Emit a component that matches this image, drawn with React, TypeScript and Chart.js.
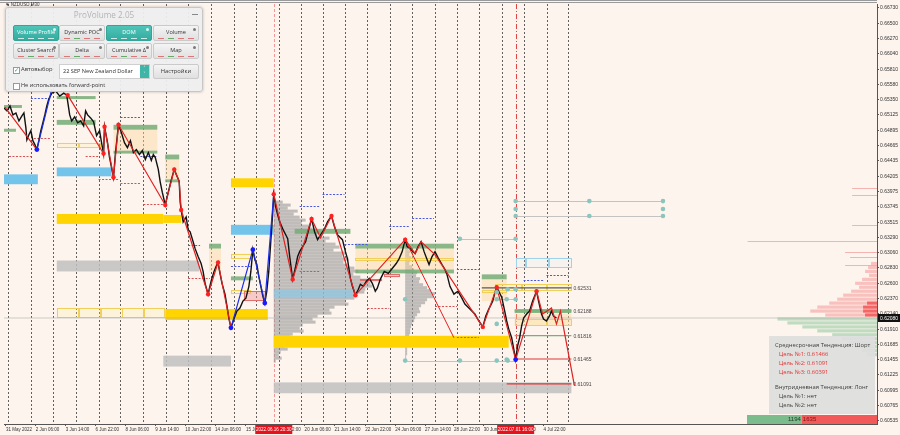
import React, { useEffect, useRef } from "react";
import { Chart, registerables } from "chart.js";

Chart.register(...registerables);

const FONT = '"Liberation Sans", Arial, sans-serif';
const BG = "#fdf4ee";

// ---------- axis data ----------
const priceMin = 0.6049;
const priceMax = 0.66789;
const barMin = 0;
const barMax = 877;

const yTicks = [0.6673, 0.665, 0.6627, 0.6604, 0.6581, 0.6558, 0.6535, 0.65125, 0.64895, 0.64665, 0.64435, 0.64205, 0.63975, 0.63745, 0.63515, 0.6329, 0.6306, 0.6283, 0.626, 0.6237, 0.6214, 0.6191, 0.61685, 0.61455, 0.61225, 0.60995, 0.60765, 0.60535];

const xTickBars = [2, 32, 62, 92, 122, 152, 182, 212, 243, 272, 302, 332, 363, 393, 423, 452, 482, 512, 542];
const xTickLabels = ["31 May 2022", "2 Jun 06:00", "3 Jun 14:00", "6 Jun 22:00", "8 Jun 06:00", "9 Jun 14:00", "10 Jun 22:00", "14 Jun 06:00", "15 Jun 14:00", "16 Jun 22:00", "20 Jun 06:00", "21 Jun 14:00", "22 Jun 22:00", "24 Jun 06:00", "27 Jun 14:00", "28 Jun 22:00", "30 Jun 06:00", "1 Jul 14:00", "4 Jul 22:00"];

const gridBars = [4, 27, 49, 72, 95, 117, 140, 163, 185, 208, 231, 253, 276, 298, 320, 343, 365, 388, 410, 433, 455, 477, 500, 522, 545, 567];

const markerBars = [271, 514];
const markerLabels = ["2022.06.16 20:30", "2022.07.01 16:00"];

const currentPrice = 0.6208;

// ---------- price path [bar, price] ----------
const pricePath: [number, number][] = [
  [0, 0.6523], [3, 0.65185], [6, 0.65259], [9, 0.65126], [12, 0.65155], [15, 0.65036], [18, 0.65111], [20, 0.65155], [22, 0.64932], [23, 0.64754],
  [25, 0.64828], [27, 0.64888], [29, 0.64739], [31, 0.6468], [33, 0.64606], [35, 0.64739], [37, 0.64888], [39, 0.65007], [41, 0.65126], [43, 0.65259],
  [45, 0.65363], [48, 0.65452], [52, 0.65482], [56, 0.65408], [60, 0.65452], [63, 0.65423], [66, 0.65126], [68, 0.65036], [71, 0.65096], [74, 0.65007],
  [77, 0.65036], [80, 0.64962], [82, 0.65185], [84, 0.65126], [87, 0.65081], [90, 0.65022], [93, 0.64814], [96, 0.64888], [98, 0.6471], [100, 0.64546],
  [101, 0.64947], [104, 0.6471], [106, 0.64487], [108, 0.64338], [110, 0.6419], [112, 0.64561], [115, 0.64977], [118, 0.64858], [121, 0.6471], [124, 0.64635],
  [127, 0.64739], [130, 0.64561], [133, 0.64606], [136, 0.64531], [139, 0.64591], [142, 0.64457], [145, 0.64561], [148, 0.64442], [150, 0.64531], [152, 0.64487],
  [155, 0.64308], [157, 0.64115], [159, 0.63967], [162, 0.63774], [165, 0.63967], [168, 0.64145], [171, 0.64308], [173, 0.64234], [176, 0.6413], [177, 0.63818],
  [178, 0.63699], [180, 0.63521], [183, 0.63595], [185, 0.63402], [187, 0.63373], [190, 0.63224], [192, 0.6312], [195, 0.63001], [198, 0.62897], [200, 0.62778],
  [202, 0.626], [205, 0.62437], [208, 0.6263], [211, 0.62778], [213, 0.62853], [215, 0.62912], [217, 0.62749], [219, 0.626], [222, 0.62437], [224, 0.62258],
  [226, 0.62065], [228, 0.61932], [231, 0.62065], [234, 0.62184], [237, 0.62229], [240, 0.62333], [243, 0.62377], [246, 0.62555], [248, 0.62778], [250, 0.63105],
  [252, 0.62957], [254, 0.62882], [256, 0.62704], [258, 0.62555], [260, 0.62407], [262, 0.62303], [264, 0.62481], [266, 0.62778], [268, 0.63224], [270, 0.6367],
  [271, 0.63937], [273, 0.63744], [275, 0.63625], [277, 0.63521], [280, 0.63417], [283, 0.63328], [285, 0.63269], [287, 0.63001], [290, 0.62659], [293, 0.62853],
  [295, 0.63001], [297, 0.63075], [300, 0.6315], [303, 0.63224], [306, 0.63402], [309, 0.63566], [312, 0.63373], [315, 0.63254], [318, 0.63328], [322, 0.63417],
  [325, 0.63521], [329, 0.6361], [332, 0.63447], [335, 0.63328], [338, 0.63283], [340, 0.63254], [343, 0.63075], [345, 0.62971], [348, 0.62674], [350, 0.62555],
  [353, 0.62422], [356, 0.62511], [358, 0.62585], [361, 0.62555], [364, 0.6263], [367, 0.62674], [370, 0.626], [373, 0.62481], [375, 0.62526], [378, 0.62659],
  [382, 0.62778], [386, 0.62749], [390, 0.62823], [394, 0.62897], [397, 0.62971], [400, 0.63075], [403, 0.63254], [405, 0.6315], [408, 0.6312], [411, 0.63075],
  [413, 0.63046], [416, 0.6315], [419, 0.63224], [422, 0.63075], [425, 0.62957], [427, 0.62882], [430, 0.63001], [433, 0.63075], [436, 0.62986], [440, 0.62882],
  [443, 0.62808], [445, 0.62734], [448, 0.62555], [452, 0.62437], [456, 0.62481], [460, 0.62377], [463, 0.62288], [467, 0.62229], [470, 0.62184], [473, 0.6214],
  [477, 0.62035], [481, 0.61946], [484, 0.6211], [487, 0.62214], [489, 0.62273], [491, 0.62333], [493, 0.62451], [495, 0.62541], [497, 0.62481], [500, 0.62392],
  [503, 0.62184], [505, 0.62035], [507, 0.61917], [510, 0.61783], [512, 0.6162], [514, 0.61456], [516, 0.61664], [518, 0.61783], [520, 0.61961], [522, 0.6208],
  [525, 0.6214], [528, 0.62184], [531, 0.62333], [535, 0.62481], [537, 0.62333], [540, 0.6214], [542, 0.62065], [545, 0.62035], [548, 0.6211], [550, 0.62184],
  [552, 0.6211], [555, 0.6208],
];

// ---------- zigzag [bar, price|null] ----------
const zigRed: [number, number | null][] = [
  [1, 0.65244], [33, 0.64606], [40, null],
  [64, 0.65423], [100, 0.64546], [101, 0.64947], [110, 0.6419], [115, 0.64977], [162, 0.63774], [171, 0.64308], [176, 0.6413], [178, 0.63699], [205, 0.62437], [215, 0.62912], [228, 0.61932], [240, null],
  [271, 0.63937], [290, 0.62659], [309, 0.63566], [318, 0.63283], [329, 0.6361], [353, 0.62422], [403, 0.63254], [413, 0.63046], [419, 0.63224], [433, 0.63031], [481, 0.61946], [495, 0.62541], [514, 0.61456], [535, 0.62481], [541, 0.6214], [550, 0.62229], [555, 0.61991], [559, 0.62184], [573, 0.6107],
];
const zigBlue: [number, number | null][] = [
  [33, 0.64606], [48, 0.65512], [100, null], [228, 0.61932], [250, 0.63105], [262, 0.62303], [271, 0.63937],
];
const zigProjection: [number, number][] = [[403, 0.63254], [452, 0.61783]];

const pivotsRed: [number, number][] = [
  [64, 0.65423], [100, 0.64546], [101, 0.64947], [110, 0.6419], [115, 0.64977], [162, 0.63774], [171, 0.64308], [178, 0.63699], [205, 0.62437], [215, 0.62912],
  [271, 0.63937], [290, 0.62659], [309, 0.63566], [329, 0.6361], [353, 0.62422], [403, 0.63254], [481, 0.61946], [495, 0.62541], [535, 0.62481],
];
const pivotsBlue: [number, number][] = [[33, 0.64606], [228, 0.61932], [250, 0.63105], [262, 0.62303], [514, 0.61456]];

// ---------- teal markers ----------
const tealDots: [number, number][] = [
  [514, 0.63833], [514, 0.63714], [514, 0.6361], [588, 0.63833], [588, 0.6361], [662, 0.63833], [662, 0.63714], [662, 0.6361],
  [514, 0.63269], [458, 0.63269], [403, 0.62362], [403, 0.61441], [458, 0.61441], [495, 0.61991], [495, 0.61441], [506, 0.61441],
  [506, 0.62511], [495, 0.62466], [495, 0.62362], [505, 0.62362], [514, 0.62362], [505, 0.61456], [514, 0.62511],
];
const tealLinks: [number, number, number][] = [
  [514, 662, 0.63833], [514, 662, 0.6361], [403, 458, 0.61441], [458, 514, 0.63269], [495, 514, 0.62362], [458, 514, 0.61441],
];

// ---------- targets ----------
const targetPrices = [0.62531, 0.62188, 0.61816, 0.61465, 0.61091];
const targetStarts = [480, 513, 513, 514, 505];
const targetEnd = 570;
const targetColors = ["#5a5a5a", "#78b078", "#78b078", "#e03535", "#e03535"];

// ---------- zones [x0, x1, top, bottom, kind] ----------
const zones: [number, number, number, number, string][] = [
  [0, 34, 0.64234, 0.64086, "blue"],
  [0, 18, 0.65274, 0.6523, "green"],
  [0, 12, 0.64918, 0.64873, "green"],
  [53, 108, 0.64338, 0.64205, "blue"],
  [53, 160, 0.6364, 0.63491, "yellow"],
  [160, 178, 0.63625, 0.63506, "yellow"],
  [53, 196, 0.62942, 0.62778, "gray"],
  [53, 75, 0.62229, 0.6208, "yellowBox"],
  [75, 97, 0.62229, 0.6208, "yellowBox"],
  [97, 119, 0.62229, 0.6208, "yellowBox"],
  [119, 141, 0.62229, 0.6208, "yellowBox"],
  [141, 162, 0.62229, 0.6208, "yellowBox"],
  [162, 265, 0.62214, 0.6205, "yellow"],
  [228, 271, 0.64175, 0.64041, "yellow"],
  [228, 271, 0.63477, 0.63328, "blue"],
  [53, 92, 0.65408, 0.65363, "green"],
  [53, 92, 0.65051, 0.64977, "green"],
  [110, 154, 0.64977, 0.64903, "green"],
  [110, 154, 0.64591, 0.64546, "green"],
  [162, 176, 0.64531, 0.64457, "green"],
  [162, 176, 0.6416, 0.64115, "green"],
  [206, 218, 0.63194, 0.6312, "green"],
  [228, 250, 0.62704, 0.62645, "green"],
  [110, 154, 0.64903, 0.64591, "beige"],
  [162, 176, 0.64457, 0.6416, "beige"],
  [206, 218, 0.6312, 0.62778, "beige"],
  [53, 75, 0.6471, 0.64635, "yellowBox"],
  [75, 97, 0.6471, 0.64635, "yellowBox"],
  [228, 250, 0.63046, 0.62971, "yellowBox"],
  [228, 248, 0.62496, 0.62437, "yellowBox"],
  [241, 263, 0.62481, 0.62333, "redBox"],
  [271, 507, 0.61813, 0.61634, "yellow"],
  [271, 570, 0.61114, 0.60951, "gray"],
  [160, 228, 0.61515, 0.61352, "gray"],
  [292, 348, 0.63417, 0.63343, "green"],
  [353, 452, 0.63194, 0.6312, "green"],
  [353, 452, 0.62808, 0.62749, "green"],
  [480, 505, 0.62734, 0.62659, "green"],
  [353, 452, 0.6312, 0.62808, "beige"],
  [480, 505, 0.62659, 0.62333, "beige"],
  [353, 452, 0.62986, 0.62942, "yellowBox"],
  [480, 505, 0.62496, 0.62451, "yellowBox"],
  [271, 350, 0.62511, 0.62377, "lightBlue"],
  [358, 380, 0.62659, 0.6263, "redBox"],
  [382, 398, 0.62734, 0.62689, "redBox"],
  [493, 520, 0.62585, 0.62481, "yellowBox"],
  [520, 545, 0.62585, 0.62481, "yellowBox"],
  [545, 570, 0.62585, 0.62481, "yellowBox"],
  [513, 570, 0.62214, 0.62154, "green"],
  [513, 570, 0.6214, 0.61961, "beige"],
  [513, 545, 0.62065, 0.61961, "yellowBox"],
  [545, 570, 0.62065, 0.61961, "yellowBox"],
  [514, 524, 0.62986, 0.62838, "blueBox"],
  [524, 547, 0.62986, 0.62838, "blueBox"],
  [547, 570, 0.62986, 0.62838, "blueBox"],
];

// ---------- volume profiles ----------
const profileAStart = 271;
const profileATop = 0.63818;
const profileAStep = 0.00045;
const profileAVolumes = [9, 17, 14, 24, 20, 26, 32, 28, 37, 39, 47, 44, 56, 52, 62, 66, 60, 72, 69, 75, 70, 74, 81, 85, 80, 87, 94, 97, 99, 92, 91, 84, 81, 72, 75, 61, 56, 58, 44, 39, 42, 29, 26, 30, 19, 16, 20, 13, 11, 14, 7, 5, 8, 2];

const profileBStart = 403;
const profileBTop = 0.63254;
const profileBStep = 0.00045;
const profileBVolumes = [2, 3, 4, 3, 5, 4, 6, 5, 4, 7, 9, 12, 11, 15, 14, 18, 22, 26, 30, 28, 22, 20, 16, 14, 15, 12, 10, 9, 7, 6, 5, 5, 4, 3, 4, 3, 2, 2, 2, 1, 1];

// ---------- DOM (order book) ----------
const domAskPrices = [0.62897, 0.62838, 0.62778, 0.62719, 0.62659, 0.626, 0.62541, 0.62481, 0.62422, 0.62362, 0.62303, 0.62243, 0.62184, 0.62125];
const domAskSizes = [6, 9, 12, 8, 15, 22, 18, 26, 34, 40, 48, 60, 67, 52];
const domAskStrong = [0, 0, 0, 0, 0, 0, 0, 0, 0, 0, 10, 14, 14, 12];
const domBidPrices = [0.62065, 0.62006, 0.61946, 0.61887, 0.61828, 0.61768, 0.61709, 0.61649, 0.6159, 0.6153];
const domBidSizes = [100, 90, 75, 60, 45, 35, 28, 22, 15, 10];
const domLinePrices = [0.64026, 0.63922, 0.63477, 0.63239, 0.63075, 0.63001, 0.62882];
const domLineSizes = [25, 25, 25, 130, 32, 27, 32];

const buyVolume = 1194;
const sellVolume = 1635;

// ---------- short dashed levels [x0, x1, price] ----------
const blueDash: [number, number, number][] = [
  [27, 47, 0.65378], [117, 138, 0.65096], [137, 153, 0.64502], [185, 197, 0.63179], [228, 248, 0.62853], [320, 342, 0.63937], [297, 318, 0.63759],
  [387, 408, 0.63462], [410, 432, 0.63581], [455, 477, 0.62808], [342, 365, 0.63194], [522, 543, 0.62645], [545, 567, 0.62719],
];
const redDash: [number, number, number][] = [
  [5, 27, 0.64502], [30, 47, 0.64784], [82, 95, 0.64516], [95, 115, 0.6416], [117, 138, 0.641], [140, 162, 0.63789], [185, 207, 0.62674],
  [365, 387, 0.62229], [433, 455, 0.62258], [297, 318, 0.62778], [455, 477, 0.61798],
];

// ---------- styles ----------
const zoneFill: Record<string, string> = {
  yellow: "#ffd400",
  gray: "rgba(192,192,192,0.85)",
  blue: "#72c4ea",
  lightBlue: "rgba(135,200,232,0.65)",
  green: "rgba(118,172,118,0.85)",
  beige: "rgba(250,214,160,0.45)",
  yellowBox: "rgba(255,236,160,0.25)",
  blueBox: "rgba(200,235,250,0.15)",
  redBox: "rgba(240,150,150,0.45)",
};
const zoneStroke: Record<string, string> = {
  yellowBox: "#f0cf5a",
  blueBox: "#9fd3ea",
  redBox: "#e07070",
};
const markerLineColors = ["rgba(240,120,120,0.75)", "rgba(220,50,50,0.9)"];
const markerLineDash = [[3, 2], [5, 2, 1, 2]];

const overlayPlugin = {
  id: "overlay",
  beforeDraw(chart: any) {
    const ctx = chart.ctx;
    ctx.save();
    ctx.fillStyle = BG;
    ctx.fillRect(0, 0, chart.width, chart.height);
    ctx.restore();
  },
  beforeDatasetsDraw(chart: any) {
    const ctx = chart.ctx;
    const a = chart.chartArea;
    const xs = chart.scales.x;
    const ys = chart.scales.y;
    const X = (v: number) => xs.getPixelForValue(v);
    const Y = (v: number) => ys.getPixelForValue(v);
    ctx.save();
    ctx.beginPath();
    ctx.rect(a.left, a.top, a.right - a.left, a.bottom - a.top);
    ctx.clip();

    // vertical dashed separators
    ctx.strokeStyle = "rgba(70,70,70,0.85)";
    ctx.lineWidth = 1;
    ctx.setLineDash([2, 2]);
    gridBars.forEach((b) => {
      const px = Math.round(X(b)) + 0.5;
      ctx.beginPath();
      ctx.moveTo(px, a.top);
      ctx.lineTo(px, a.bottom);
      ctx.stroke();
    });
    // red session markers
    markerBars.forEach((b, i) => {
      ctx.strokeStyle = markerLineColors[i];
      ctx.setLineDash(markerLineDash[i]);
      const px = Math.round(X(b)) + 0.5;
      ctx.beginPath();
      ctx.moveTo(px, a.top);
      ctx.lineTo(px, a.bottom);
      ctx.stroke();
    });
    ctx.setLineDash([]);

    // volume profiles
    const drawProfile = (start: number, top: number, step: number, vols: number[]) => {
      ctx.fillStyle = "rgba(150,150,150,0.6)";
      vols.forEach((v, i) => {
        const y0 = Y(top - i * step + step / 2);
        const y1 = Y(top - i * step - step / 2);
        ctx.fillRect(X(start), y0, X(start + v) - X(start), y1 - y0);
      });
    };
    drawProfile(profileAStart, profileATop, profileAStep, profileAVolumes);
    drawProfile(profileBStart, profileBTop, profileBStep, profileBVolumes);

    // zones
    zones.forEach(([x0, x1, t, b, kind]) => {
      const px0 = X(x0), px1 = X(x1), py0 = Y(t), py1 = Y(b);
      ctx.fillStyle = zoneFill[kind];
      ctx.fillRect(px0, py0, px1 - px0, py1 - py0);
      if (zoneStroke[kind]) {
        ctx.strokeStyle = zoneStroke[kind];
        ctx.lineWidth = 1;
        ctx.strokeRect(Math.round(px0) + 0.5, Math.round(py0) + 0.5, Math.round(px1 - px0) - 1, Math.max(1, Math.round(py1 - py0) - 1));
      }
    });

    // DOM bars from right edge
    const right = barMax;
    const half = 0.00024;
    domAskPrices.forEach((p, i) => {
      ctx.fillStyle = "rgba(245,130,130,0.45)";
      const y0 = Y(p + half), y1 = Y(p - half);
      ctx.fillRect(X(right - domAskSizes[i]), y0, X(right) - X(right - domAskSizes[i]), y1 - y0);
      if (domAskStrong[i]) {
        ctx.fillStyle = "rgba(240,80,80,0.8)";
        ctx.fillRect(X(right - domAskStrong[i]), y0, X(right) - X(right - domAskStrong[i]), y1 - y0);
      }
    });
    domBidPrices.forEach((p, i) => {
      ctx.fillStyle = "rgba(130,195,145,0.5)";
      const y0 = Y(p + half), y1 = Y(p - half);
      ctx.fillRect(X(right - domBidSizes[i]), y0, X(right) - X(right - domBidSizes[i]), y1 - y0);
    });
    ctx.fillStyle = "rgba(240,150,150,0.7)";
    domLinePrices.forEach((p, i) => {
      ctx.fillRect(X(right - domLineSizes[i]), Math.round(Y(p)), X(right) - X(right - domLineSizes[i]), 1);
    });

    // short dashed levels
    ctx.lineWidth = 1;
    ctx.setLineDash([2, 1.5]);
    ctx.strokeStyle = "#4a5ae0";
    blueDash.forEach(([x0, x1, p]) => {
      const py = Math.round(Y(p)) + 0.5;
      ctx.beginPath();
      ctx.moveTo(X(x0), py);
      ctx.lineTo(X(x1), py);
      ctx.stroke();
    });
    ctx.strokeStyle = "#d85050";
    redDash.forEach(([x0, x1, p]) => {
      const py = Math.round(Y(p)) + 0.5;
      ctx.beginPath();
      ctx.moveTo(X(x0), py);
      ctx.lineTo(X(x1), py);
      ctx.stroke();
    });
    ctx.setLineDash([]);

    // teal links
    ctx.strokeStyle = "rgba(190,190,190,0.9)";
    tealLinks.forEach(([x0, x1, p]) => {
      const py = Math.round(Y(p)) + 0.5;
      ctx.beginPath();
      ctx.moveTo(X(x0), py);
      ctx.lineTo(X(x1), py);
      ctx.stroke();
    });
    ctx.restore();
  },
  afterDraw(chart: any) {
    const ctx = chart.ctx;
    const a = chart.chartArea;
    const xs = chart.scales.x;
    const ys = chart.scales.y;
    const X = (v: number) => xs.getPixelForValue(v);
    const Y = (v: number) => ys.getPixelForValue(v);
    ctx.save();
    // top frame
    ctx.strokeStyle = "#9a9a9a";
    ctx.lineWidth = 1;
    ctx.beginPath();
    ctx.moveTo(0, 0.5);
    ctx.lineTo(a.right, 0.5);
    ctx.moveTo(0, 2.5);
    ctx.lineTo(a.right, 2.5);
    ctx.stroke();

    // target labels
    ctx.font = "5px " + FONT;
    ctx.textBaseline = "middle";
    ctx.textAlign = "left";
    ctx.fillStyle = "#444";
    targetPrices.forEach((p) => {
      ctx.fillText(p.toFixed(5), X(targetEnd) + 2, Y(p) + 1);
    });

    // symbol caption
    ctx.fillStyle = "#333";
    ctx.font = "4.5px " + FONT;
    ctx.fillText("\u25BC NZDUSD,M30", 5, 5);

    // current price box on axis
    ctx.font = "5px " + FONT;
    const cy = Math.round(Y(currentPrice));
    ctx.fillStyle = "#111";
    ctx.fillRect(a.right + 1, cy - 4, 22, 8);
    ctx.fillStyle = "#fff";
    ctx.fillText(currentPrice.toFixed(5), a.right + 3, cy + 0.5);

    // session labels on time axis
    ctx.textAlign = "center";
    ctx.font = "4.6px " + FONT;
    markerBars.forEach((b, i) => {
      const px = X(b);
      ctx.fillStyle = "#e8101a";
      ctx.fillRect(px - 18.5, a.bottom + 1, 37, 9);
      ctx.fillStyle = "#fff";
      ctx.fillText(markerLabels[i], px, a.bottom + 6);
    });

    // buy / sell volume bar
    const total = buyVolume + sellVolume;
    const fullW = 130;
    const wBuy = (buyVolume / total) * fullW;
    const left = a.right - fullW;
    ctx.fillStyle = "#7cbb8c";
    ctx.fillRect(left, a.bottom - 9, wBuy, 9);
    ctx.fillStyle = "#f25a5a";
    ctx.fillRect(left + wBuy, a.bottom - 9, fullW - wBuy, 9);
    ctx.font = "6px " + FONT;
    ctx.textAlign = "right";
    ctx.fillStyle = "#2a3a2a";
    ctx.fillText(String(buyVolume), left + wBuy - 1, a.bottom - 4.5);
    ctx.textAlign = "left";
    ctx.fillStyle = "#7a1010";
    ctx.fillText(String(sellVolume), left + wBuy + 1, a.bottom - 4.5);
    ctx.restore();
  },
};

const toXY = (arr: [number, number | null][]) => arr.map(([x, y]) => ({ x, y }));

function buildConfig(): any {
  return {
    type: "line",
    data: {
      datasets: [
        { label: "pivotsRed", type: "scatter", data: toXY(pivotsRed), pointRadius: 2.2, pointBackgroundColor: "#ff2020", pointBorderWidth: 0, order: 0 },
        { label: "pivotsBlue", type: "scatter", data: toXY(pivotsBlue), pointRadius: 2.4, pointBackgroundColor: "#1a1aff", pointBorderWidth: 0, order: 0 },
        { label: "teal", type: "scatter", data: toXY(tealDots), pointRadius: 2.3, pointBackgroundColor: "#8cc4be", pointBorderWidth: 0, order: 0 },
        { label: "zigRed", data: toXY(zigRed), borderColor: "#e02222", borderWidth: 1.2, pointRadius: 0, spanGaps: false, order: 1 },
        { label: "zigBlue", data: toXY(zigBlue), borderColor: "#1c2ee6", borderWidth: 1.2, pointRadius: 0, spanGaps: false, order: 1 },
        { label: "zigProj", data: toXY(zigProjection), borderColor: "#e02222", borderWidth: 1, pointRadius: 0, order: 1 },
        { label: "price", data: toXY(pricePath), borderColor: "#111", borderWidth: 1.4, pointRadius: 0, tension: 0, order: 2 },
        ...targetPrices.map((p, i) => ({
          label: "target" + i,
          data: [{ x: targetStarts[i], y: p }, { x: targetEnd, y: p }],
          borderColor: targetColors[i],
          borderWidth: 1.2,
          pointRadius: 0,
          order: 3,
        })),
        { label: "current", data: [{ x: barMin, y: currentPrice }, { x: barMax, y: currentPrice }], borderColor: "rgba(170,170,170,0.55)", borderWidth: 1, pointRadius: 0, order: 5 },
      ],
    },
    options: {
      responsive: false,
      maintainAspectRatio: false,
      devicePixelRatio: 1,
      animation: false,
      events: [],
      layout: { padding: 0 },
      plugins: { legend: { display: false }, tooltip: { enabled: false }, title: { display: false } },
      scales: {
        x: {
          type: "linear",
          position: "bottom",
          min: barMin,
          max: barMax,
          afterBuildTicks: (s: any) => {
            s.ticks = xTickBars.map((v) => ({ value: v }));
          },
          afterFit: (s: any) => {
            s.height = 11;
            s.paddingLeft = 0;
            s.paddingRight = 0;
          },
          ticks: {
            autoSkip: false,
            maxRotation: 0,
            minRotation: 0,
            align: "start",
            padding: 1,
            color: "#333",
            font: { size: 4.5, family: FONT },
            callback: (_v: any, i: number) => xTickLabels[i],
          },
          grid: { drawOnChartArea: false, drawTicks: true, tickLength: 2, color: "#555" },
          border: { display: true, color: "#555" },
        },
        y: {
          type: "linear",
          position: "right",
          min: priceMin,
          max: priceMax,
          afterBuildTicks: (s: any) => {
            s.ticks = yTicks.map((v) => ({ value: v }));
          },
          afterFit: (s: any) => {
            s.width = 23;
            s.paddingTop = 0;
            s.paddingBottom = 0;
          },
          ticks: {
            padding: 1,
            color: "#333",
            font: { size: 5, family: FONT },
            callback: (v: any) => Number(v).toFixed(5),
          },
          grid: { drawOnChartArea: false, drawTicks: true, tickLength: 2, color: "#555" },
          border: { display: true, color: "#555" },
        },
      },
    },
    plugins: [overlayPlugin],
  };
}

// ---------- panels ----------
const btnLabels = ["Volume Profile", "Dynamic POC", "DOM", "Volume", "Cluster Search", "Delta", "Cumulative \u0394", "Map"];
const btnActive = [true, false, true, false, false, false, false, false];

const panelFont = '"Open Sans", "Noto Sans", "Liberation Sans", sans-serif';

function Btn({ label, active, left, top }: { label: string; active: boolean; left: number; top: number }) {
  return (
    <div
      style={{
        position: "absolute",
        left,
        top,
        width: 46,
        height: 16,
        boxSizing: "border-box",
        borderRadius: 2,
        border: "1px solid " + (active ? "#33a497" : "#cacaca"),
        background: active ? "linear-gradient(#4fc4b8,#35ab9f)" : "linear-gradient(#f4f4f4,#e0e0e0)",
        color: active ? "#fff" : "#333",
        fontSize: 5.6,
        lineHeight: "13px",
        textAlign: "center",
        whiteSpace: "nowrap",
      }}
    >
      {label}
      <div style={{ position: "absolute", right: 2, top: 1.5, width: 3, height: 3, borderRadius: 2, background: active ? "#d8f4f0" : "#7a7a7a" }} />
      <div style={{ position: "absolute", left: 4, right: 4, bottom: 1.5, height: 1, display: "flex", justifyContent: "space-between" }}>
        {[0, 1, 2, 3].map((i) => (
          <span key={i} style={{ width: 6, height: 1, background: active ? "rgba(255,255,255,0.75)" : i === 1 ? "#6a6" : "#d77" }} />
        ))}
      </div>
    </div>
  );
}

function TopPanel() {
  const lefts = [7, 53, 100, 147];
  return (
    <div
      style={{
        position: "absolute",
        left: 5,
        top: 7,
        width: 198,
        height: 85,
        boxSizing: "border-box",
        background: "rgba(238,238,238,0.95)",
        border: "1px solid #c6c6c6",
        borderRadius: 3,
        boxShadow: "0 0 3px rgba(0,0,0,0.25)",
        fontFamily: panelFont,
      }}
    >
      <div style={{ position: "absolute", left: 0, width: 196, top: 1, textAlign: "center", fontSize: 8.2, lineHeight: "12px", color: "#b4b4b4" }}>ProVolume 2.05</div>
      <div style={{ position: "absolute", right: 4, top: 6, width: 6, height: 1, background: "#888" }} />
      {btnLabels.map((l, i) => (
        <Btn key={l} label={l} active={btnActive[i]} left={lefts[i % 4]} top={i < 4 ? 17 : 35} />
      ))}
      <div style={{ position: "absolute", left: 7, top: 59, width: 5, height: 5, border: "1px solid #999", background: "#fff", fontSize: 6, lineHeight: "5px", color: "#2a9d8f", textAlign: "center" }}>{"\u2713"}</div>
      <div style={{ position: "absolute", left: 15, top: 57, fontSize: 5.8, lineHeight: "9px", color: "#333" }}>Автовыбор</div>
      <div
        style={{
          position: "absolute",
          left: 53,
          top: 56,
          width: 91,
          height: 15,
          boxSizing: "border-box",
          background: "#fff",
          border: "1px solid #cfcfcf",
          fontSize: 5.6,
          lineHeight: "13px",
          paddingLeft: 3,
          color: "#333",
          whiteSpace: "nowrap",
        }}
      >
        22 SEP New Zealand Dollar
        <div style={{ position: "absolute", right: 0, top: 0, width: 9, height: 13, background: "#3fb5a8", color: "#fff", fontSize: 5, lineHeight: "6px", textAlign: "center" }}>
          {"\u02C4"}
          <br />
          {"\u02C5"}
        </div>
      </div>
      <div
        style={{
          position: "absolute",
          left: 147,
          top: 56,
          width: 46,
          height: 15,
          boxSizing: "border-box",
          borderRadius: 2,
          border: "1px solid #cacaca",
          background: "linear-gradient(#f4f4f4,#e0e0e0)",
          fontSize: 5.8,
          lineHeight: "13px",
          textAlign: "center",
          color: "#333",
        }}
      >
        Настройки
      </div>
      <div style={{ position: "absolute", left: 7, top: 75, width: 5, height: 5, border: "1px solid #999", background: "#fff" }} />
      <div style={{ position: "absolute", left: 15, top: 73, fontSize: 5.6, lineHeight: "9px", color: "#333", whiteSpace: "nowrap" }}>Не использовать forward-point</div>
    </div>
  );
}

const infoLines = [
  { text: "Среднесрочная Тенденция: Шорт", top: 5, left: 6, color: "#3c3c3c" },
  { text: "Цель №1: 0.61466", top: 14, left: 10, color: "#e03030" },
  { text: "Цель №2: 0.61091", top: 23, left: 10, color: "#e03030" },
  { text: "Цель №3: 0.60391", top: 32, left: 10, color: "#e03030" },
  { text: "Внутридневная Тенденция: Лонг", top: 47, left: 6, color: "#3c3c3c" },
  { text: "Цель №1: нет", top: 56, left: 10, color: "#3c3c3c" },
  { text: "Цель №2: нет", top: 65, left: 10, color: "#3c3c3c" },
];

function InfoPanel() {
  return (
    <div style={{ position: "absolute", left: 769, top: 336, width: 106, height: 78, background: "rgba(222,222,222,0.93)", fontFamily: panelFont }}>
      {infoLines.map((l) => (
        <div key={l.text + l.top} style={{ position: "absolute", left: l.left, top: l.top, fontSize: 5.8, lineHeight: "8px", color: l.color, whiteSpace: "nowrap" }}>
          {l.text}
        </div>
      ))}
    </div>
  );
}

export default function App() {
  const ref = useRef<HTMLCanvasElement | null>(null);
  useEffect(() => {
    if (!ref.current) return;
    const chart = new Chart(ref.current, buildConfig());
    return () => chart.destroy();
  }, []);
  return (
    <div style={{ position: "fixed", left: 0, top: 0, width: 900, height: 435, background: BG, overflow: "hidden" }}>
      <canvas ref={ref} width={900} height={435} style={{ display: "block", width: 900, height: 435 }} />
      <TopPanel />
      <InfoPanel />
    </div>
  );
}
